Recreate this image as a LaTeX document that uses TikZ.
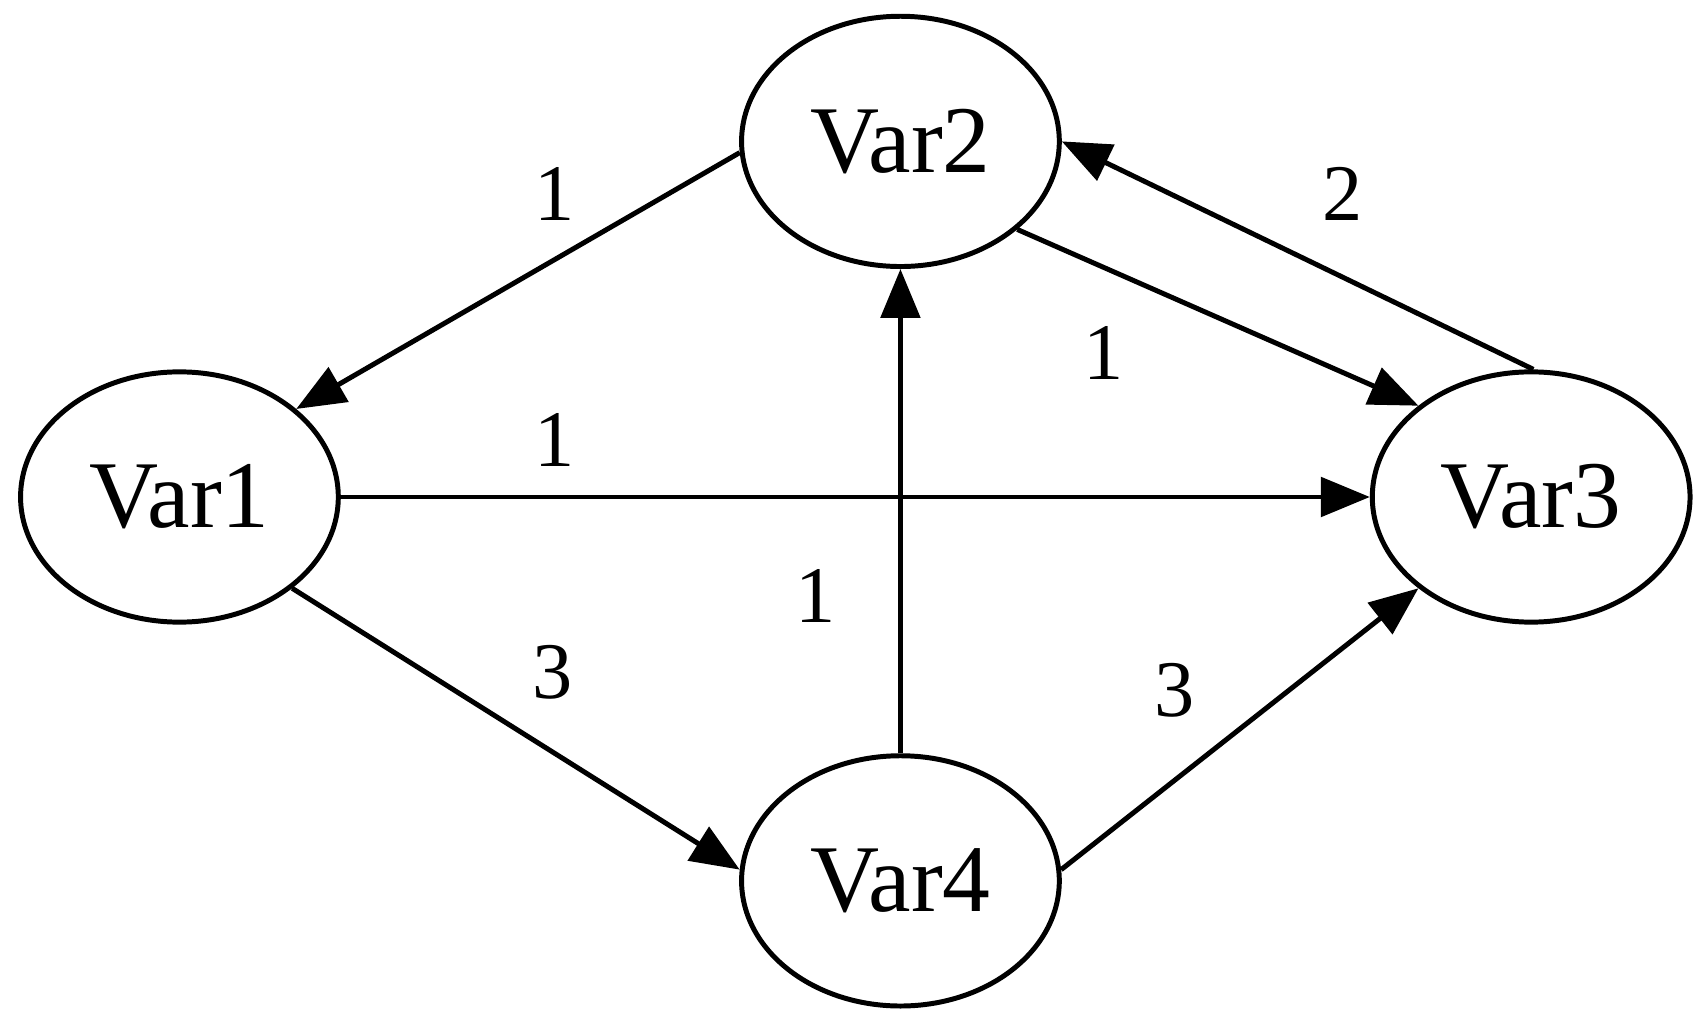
\documentclass[tikz,border=0pt]{standalone}
\usepackage{fontspec}
\setmainfont{Liberation Serif}
\usetikzlibrary{shapes.geometric,arrows.meta}
\begin{document}
\begin{tikzpicture}[x=0.01cm,y=-0.01cm,
  v/.style={draw,ellipse,line width=1.3pt,minimum width=2.92cm,minimum height=2.3cm,inner sep=0pt,font=\fontsize{25}{28}\selectfont},
  e/.style={line width=1.3pt,-{Triangle[length=0.45cm,width=0.36cm]}},
  l/.style={font=\fontsize{21}{24}\selectfont}]
\useasboundingbox (0,0) rectangle (1566,941);
\node[v] (v2) at (828,130) {Var2};
\node[v] (v1) at (165,457) {Var1};
\node[v] (v3) at (1408,457) {Var3};
\node[v] (v4) at (828,810) {Var4};
\draw[e] (v2.184) -- (v1.37);
\draw[e] (v2.323) -- (v3.141.5);
\draw[e] (v3.89) -- (v2.0);
\draw[e] (v4.north) -- (v2.south);
\draw[e] (v1.east) -- (v3.west);
\draw[e] (v1.321) -- (v4.176);
\draw[e] (v4.4) -- (v3.219);
\node[l] (a) at (510,178) {1};
\node[l] (b) at (1015,325) {1};
\node[l] (c) at (1235,178) {2};
\node[l] (d) at (750,548) {1};
\node[l] (f) at (510,405) {1};
\node[l] (g) at (508,618) {3};
\node[l] (h) at (1080,635) {3};
\end{tikzpicture}
\end{document}
